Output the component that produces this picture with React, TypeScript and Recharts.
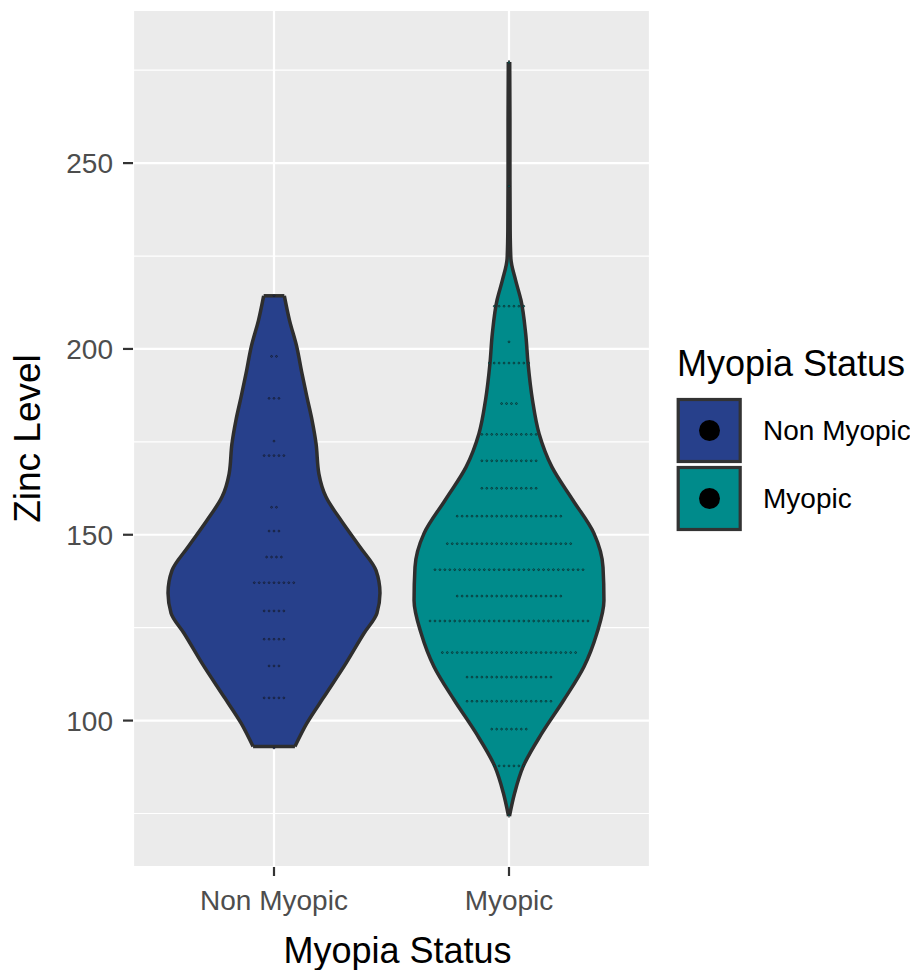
import React from "react";
import {
  ComposedChart,
  Area,
  Scatter,
  XAxis,
  YAxis,
  CartesianGrid,
  ReferenceLine,
  Legend,
  Label,
} from "recharts";

const FONT = "'Liberation Sans', Arial, sans-serif";

// groups on the x axis (positions 1 and 2)
const categories = ["Non Myopic", "Myopic"];
const groupColors = ["#27408B", "#008B8B"];

const yTicks = [100, 150, 200, 250];
const yMinorTicks = [75, 125, 175, 225, 275];

// violin outline: zinc level -> half width (category units)
const nonMyopicLevel = [214.3, 207.7, 200.8, 193.4, 187.1, 180.8, 174.5, 166.4, 160.2, 153.9, 146.7, 140.4, 134.3, 128.9, 123.5, 115.4, 106.4, 99.3, 93];
const nonMyopicHalfWidth = [0.044, 0.066, 0.096, 0.119, 0.14, 0.162, 0.179, 0.191, 0.221, 0.285, 0.366, 0.434, 0.451, 0.438, 0.383, 0.306, 0.213, 0.14, 0.089];

const myopicLevel = [277.2, 262, 246, 232, 224.3, 218.5, 213.1, 204.1, 196.1, 186.2, 177.2, 168.2, 159.3, 150.3, 141.3, 132.3, 123.5, 114.5, 105.6, 96.6, 87.6, 80.5, 74.3];
const myopicHalfWidth = [0.003, 0.004, 0.004, 0.005, 0.008, 0.028, 0.051, 0.071, 0.081, 0.1, 0.128, 0.183, 0.272, 0.362, 0.4, 0.404, 0.374, 0.319, 0.234, 0.14, 0.06, 0.024, 0.002];

// dotplot rows: binned level and how many dots sit in that bin
const nonMyopicDotLevel = [214.3, 198.0, 186.7, 175.2, 171.3, 157.4, 151.0, 144.0, 137.1, 129.5, 121.9, 114.7, 106.1, 92.6];
const nonMyopicDotCount = [1, 2, 3, 1, 5, 2, 3, 4, 9, 5, 5, 3, 5, 1];

const myopicDotLevel = [277.1, 243.8, 211.5, 201.9, 196.2, 185.3, 177.0, 169.9, 162.5, 155.0, 147.6, 140.6, 133.5, 126.8, 118.3, 111.7, 105.2, 97.7, 87.8, 74.5];
const myopicDotCount = [1, 1, 7, 1, 9, 4, 12, 12, 12, 22, 26, 31, 22, 33, 28, 18, 18, 8, 7, 1];

const DOT_STEP = 0.021;

const violin = (pos: number, levels: number[], half: number[]) =>
  levels.map((y, i) => ({ y, band: [pos - half[i], pos + half[i]] }));

const cap = (pos: number, levels: number[], half: number[], i: number) => [
  { x: pos - half[i], y: levels[i] },
  { x: pos + half[i], y: levels[i] },
];

const dots = (pos: number, levels: number[], counts: number[]) =>
  levels.flatMap((y, i) =>
    Array.from({ length: counts[i] }, (_, k) => ({
      x: pos + (k - (counts[i] - 1) / 2) * DOT_STEP,
      y,
    }))
  );

const groups = [
  { level: nonMyopicLevel, half: nonMyopicHalfWidth, dotLevel: nonMyopicDotLevel, dotCount: nonMyopicDotCount },
  { level: myopicLevel, half: myopicHalfWidth, dotLevel: myopicDotLevel, dotCount: myopicDotCount },
];

const LegendBox = () => (
  <svg width={240} height={200} style={{ fontFamily: FONT }}>
    <text x={7} y={36} fontSize={36} fill="#000">
      Myopia Status
    </text>
    {categories.map((c, i) => {
      const top = 58 + i * 68;
      return (
        <g key={c}>
          <rect x={8.2} y={top + 1.5} width={62} height={62} fill={groupColors[i]} stroke="#333" strokeWidth={3.2} />
          <circle cx={39.5} cy={top + 32.5} r={10.5} fill="#000" />
          <text x={93} y={top + 32.5} dominantBaseline="central" fontSize={28} fill="#000">
            {c}
          </text>
        </g>
      );
    })}
  </svg>
);

// tiny dotplot dots: group fill with a dark rim, mostly reads as a dark speck
const dotShape = (color: string) => (p: any) =>
  <circle cx={p.cx} cy={p.cy} r={0.9} fill={color} stroke="#111" strokeWidth={0.6} />;

export default function App() {
  return (
    <div style={{ position: "absolute", left: 0, top: 0, background: "#fff" }}>
      <ComposedChart
        width={911}
        height={970}
        layout="vertical"
        margin={{ top: 10, right: 261, bottom: 0, left: 0 }}
        style={{ fontFamily: FONT }}
      >
        <CartesianGrid fill="#EBEBEB" stroke="#fff" strokeWidth={2.2} />
        <XAxis
          type="number"
          domain={[0.4, 2.6]}
          allowDataOverflow
          ticks={[1, 2]}
          interval={0}
          tickFormatter={(v: number) => categories[v - 1]}
          height={103}
          axisLine={false}
          tickSize={9}
          tickMargin={14}
          tickLine={{ stroke: "#333", strokeWidth: 2.2 }}
          tick={{ fill: "#4D4D4D", fontSize: 28, fontFamily: FONT }}
        >
          <Label
            content={({ viewBox }: any) => (
              <text
                x={viewBox.x + viewBox.width / 2 + 6}
                y={viewBox.y + viewBox.height - 7}
                textAnchor="middle"
                fontSize={36}
                fill="#000"
                fontFamily={FONT}
              >
                Myopia Status
              </text>
            )}
          />
        </XAxis>
        <YAxis
          type="number"
          dataKey="y"
          reversed
          domain={[60.6, 291.2]}
          allowDataOverflow
          ticks={yTicks}
          interval={0}
          width={133}
          axisLine={false}
          tickSize={10}
          tickMargin={10}
          tickLine={{ stroke: "#333", strokeWidth: 2.2 }}
          tick={{ fill: "#4D4D4D", fontSize: 28, fontFamily: FONT }}
        >
          <Label
            content={({ viewBox }: any) => {
              const cx = viewBox.x + 40;
              const cy = viewBox.y + viewBox.height / 2;
              return (
                <text
                  x={cx}
                  y={cy}
                  transform={`rotate(-90 ${cx} ${cy})`}
                  textAnchor="middle"
                  fontSize={37}
                  fill="#000"
                  fontFamily={FONT}
                >
                  Zinc Level
                </text>
              );
            }}
          />
        </YAxis>
        {yMinorTicks.map((v) => (
          <ReferenceLine key={v} y={v} stroke="#fff" strokeWidth={1.2} ifOverflow="hidden" zIndex={-50} />
        ))}
        {groups.map((g, i) => (
          <Area
            key={categories[i]}
            name={categories[i]}
            data={violin(i + 1, g.level, g.half)}
            dataKey="band"
            type="monotone"
            fill={groupColors[i]}
            fillOpacity={1}
            stroke="#2e2e2e"
            strokeWidth={3.5}
            strokeLinejoin="round"
            dot={false}
            activeDot={false}
            legendType="none"
            isAnimationActive={false}
          />
        ))}
        {groups.flatMap((g, i) =>
          [0, g.level.length - 1].map((j) => (
            <Scatter
              key={`cap-${i}-${j}`}
              data={cap(i + 1, g.level, g.half, j)}
              dataKey="x"
              fill="#2e2e2e"
              line={{ stroke: "#2e2e2e", strokeWidth: 3.5 }}
              shape={() => <g />}
              legendType="none"
              isAnimationActive={false}
            />
          ))
        )}
        {groups.map((g, i) => (
          <Scatter
            key={`dots-${i}`}
            data={dots(i + 1, g.dotLevel, g.dotCount)}
            dataKey="x"
            fill={groupColors[i]}
            shape={dotShape(groupColors[i])}
            legendType="none"
            isAnimationActive={false}
          />
        ))}
        <Legend
          layout="vertical"
          align="center"
          verticalAlign="middle"
          width={240}
          wrapperStyle={{ left: 670, top: 340, width: 240, height: 200 }}
          content={() => <LegendBox />}
        />
      </ComposedChart>
    </div>
  );
}
